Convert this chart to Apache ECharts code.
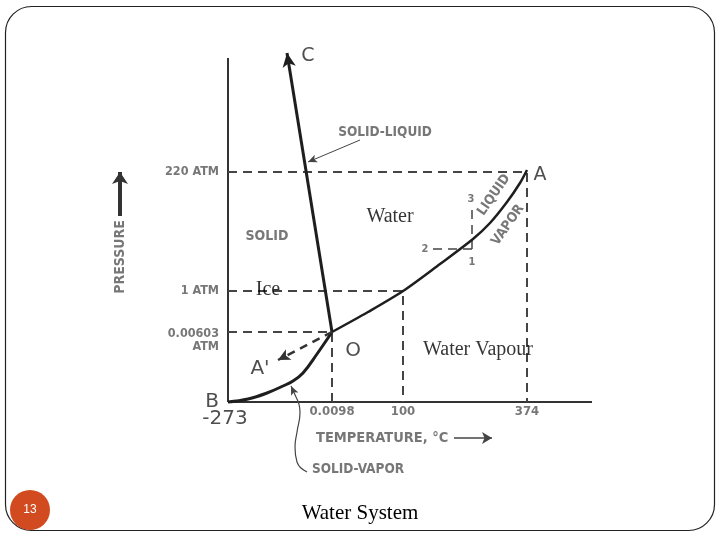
<!DOCTYPE html>
<html><head><meta charset="utf-8">
<script src="https://cdn.jsdelivr.net/npm/echarts@6/dist/echarts.min.js"></script>
<style>html,body{margin:0;padding:0;background:#fff}#c{width:720px;height:540px}</style>
</head><body><div id="c"></div>
<script>
// Schematic phase diagram of water (non-linear, schematic units)
const pointB = [0, 0];
const pointO = [104, 70];      // triple point
const pointC = [59, 349];
const pointA = [299, 230];     // critical point
const solidLiquid = [pointO, pointC];
const liquidVapor = [[104,70],[140,90],[175,111],[212,138],[245,163],[262,179],[279,200],[292,219],[299,232]];
const solidVapor = [[0,0],[20,3],[39,9],[55,16],[65,21],[75,29],[89,48],[104,70]];
const metastable = [[104,70],[50,42]];
const tickX = [0, 104, 175, 299];
const tickXLabels = ['-273', '0.0098', '100', '374'];
const tickY = [230, 111, 70];
const tickYLabels = ['220 ATM', '1 ATM', '0.00603\nATM'];
const boilPoint = [175, 111];
const step1 = [[205,153],[244,153]];
const step3 = [[244,153],[244,196]];
const solidLiquidPointer = [[132,262],[80,240]];
const solidVaporPointer = [[79,-70],[69,-60],[67,-45],[69,-30],[72,-10],[68,5]];
const tempArrow = [[226,-36],[264,-36]];
const pressArrow = [[-108,186],[-108,230]];

const ink = '#1e1e1e';
const grey = '#555';
function line(data, w, dashed, smooth, color) {
  return {type:'line', data:data, symbol:'none', smooth: smooth||false, clip:false, silent:true,
    lineStyle:{color: color||ink, width:w, type: dashed ? [9,6] : 'solid'}, z:3};
}
function arrow(a, b, w, dashed, color, size) {
  return {type:'line', data:[], symbol:'none', clip:false, silent:true,
    markLine:{silent:true, animation:false, symbol:['none','arrow'], symbolSize: size||[9,13],
      label:{show:false},
      lineStyle:{color: color||ink, width:w, type: dashed ? [8,6] : 'solid'},
      data:[[{coord:a},{coord:b}]]}, z:3};
}
function labels(items, style) {
  return {type:'scatter', symbolSize:0, clip:false, silent:true, z:5,
    data: items.map(it => ({value: it.p, label: Object.assign({show:true, position:'inside', formatter: it.t, color: grey, fontFamily:'DejaVu Sans Condensed, DejaVu Sans', fontSize:13.5, fontWeight:'bold'}, style, it.s||{})}))};
}

const series = [];
// axes lines
series.push(line([[0,0],[0,344]], 2, false, false, '#333'));
series.push(line([[0,0],[364,0]], 2, false, false, '#333'));
// guide dashed lines
series.push(line([[0,tickY[0]], pointA, [pointA[0],0]], 2, true, false, '#444'));
series.push(line([[0,tickY[1]], boilPoint, [boilPoint[0],0]], 2, true, false, '#444'));
series.push(line([[0,tickY[2]], pointO, [pointO[0],0]], 2, true, false, '#444'));
series.push(line(step1, 1.5, true, false, '#444'));
series.push(line(step3, 1.5, true, false, '#444'));
// phase boundaries
series.push(line(liquidVapor, 2.5, false, 0.3));
series.push(line(solidVapor, 3, false, 0.4));
series.push(arrow(pointO, pointC, 3, false, ink, [10,14]));
series.push(arrow(metastable[0], metastable[1], 2.5, true, '#333', [9,12]));
// pointers
series.push(arrow(solidLiquidPointer[0], solidLiquidPointer[1], 1, false, '#444', [6,9]));
series.push(line(solidVaporPointer, 1.2, false, 0.5, '#444'));
series.push(arrow(solidVaporPointer[5], [63,16], 1.2, false, '#444', [6,9]));
series.push(arrow(tempArrow[0], tempArrow[1], 1.5, false, '#444', [9,10]));
series.push(arrow(pressArrow[0], pressArrow[1], 4, false, '#333', [12,12]));

// tick labels
series.push(labels(tickY.map((v,i)=>({p:[-9, i===2 ? 62 : v], t: tickYLabels[i]})), {position:'left', align:'right', lineHeight:13, distance:0, fontSize:12.5}));
series.push(labels(tickX.slice(1).map((v,i)=>({p:[v,-10], t: tickXLabels[i+1]})), {fontSize:13}));
// big letters
series.push(labels([
  {p:[-3,-17], t:'-273', s:{fontSize:20}},
  {p:[-16,0], t:'B', s:{fontSize:20}},
  {p:[80,346], t:'C', s:{fontSize:19}},
  {p:[312,227], t:'A', s:{fontSize:19}},
  {p:[125,51], t:'O', s:{fontSize:20}},
  {p:[32,33], t:"A'", s:{fontSize:20}}
], {color:'#222', fontWeight:'normal', fontFamily:'DejaVu Sans'}));
// region labels (serif)
series.push(labels([
  {p:[162,185], t:'Water'},
  {p:[40,112], t:'Ice'},
  {p:[250,52], t:'Water Vapour'}
], {color:'#000', fontWeight:'normal', fontFamily:'Liberation Serif', fontSize:20}));
// small diagram labels
series.push(labels([
  {p:[39,166], t:'SOLID', s:{fontSize:14}},
  {p:[157,270], t:'SOLID-LIQUID'},
  {p:[130,-67], t:'SOLID-VAPOR'},
  {p:[88,-36], t:'TEMPERATURE, °C', s:{position:'right', distance:0, fontSize:14.5}},
  {p:[244,140], t:'1', s:{fontSize:11}},
  {p:[197,153], t:'2', s:{fontSize:11}},
  {p:[243,203], t:'3', s:{fontSize:11}},
  {p:[266,207], t:'LIQUID', s:{rotate:55}},
  {p:[280,177], t:'VAPOR', s:{rotate:55}},
  {p:[-108,145], t:'PRESSURE', s:{rotate:90, fontSize:14}}
], {}));

const chart = echarts.init(document.getElementById('c'), null, {renderer:'canvas'});
chart.setOption({
  animation:false,
  backgroundColor:'#fff',
  grid:{left:108, right:128, top:42, bottom:58, containLabel:false},
  xAxis:{type:'value', min:-120, max:364, show:false},
  yAxis:{type:'value', min:-80, max:360, show:false},
  graphic:[
    {type:'rect', shape:{x:5.5, y:6.5, width:709, height:524, r:26}, style:{fill:'none', stroke:'#222', lineWidth:1.2}, z:1},
    {type:'circle', shape:{cx:30, cy:510, r:20}, style:{fill:'#D24A1F'}, z:10},
    {type:'text', x:30, y:510, style:{text:'13', fill:'#fff', fontSize:12, fontFamily:'Liberation Sans Narrow, Liberation Sans', align:'center', verticalAlign:'middle'}, z:11},
    {type:'text', x:360, y:513, style:{text:'Water System', fill:'#000', fontSize:21, fontFamily:'Liberation Serif', align:'center', verticalAlign:'middle'}, z:11}
  ],
  series: series
});
</script></body></html>
